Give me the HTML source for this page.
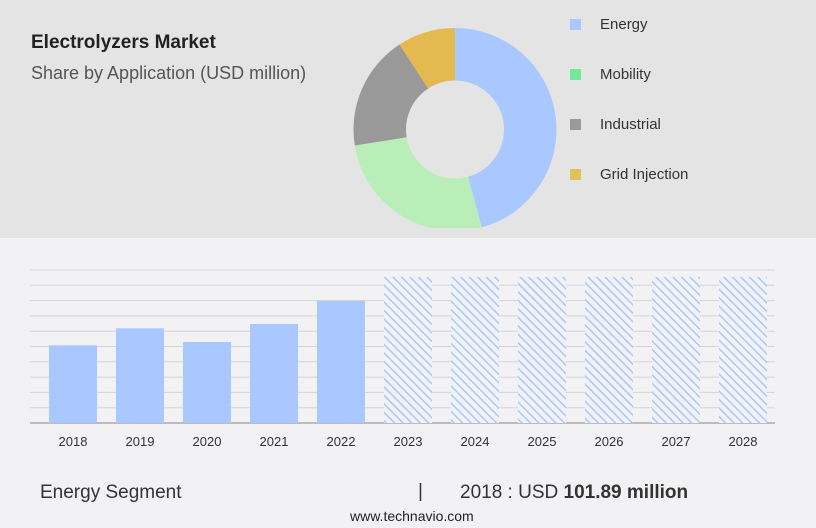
<!DOCTYPE html>
<html><head><meta charset="utf-8"><style>
body{margin:0;width:816px;height:528px;overflow:hidden;background:#f2f2f4;font-family:"Liberation Sans",sans-serif;position:relative}
.top{position:absolute;left:0;top:0;width:816px;height:238px;background:#e4e4e4}
.t1{position:absolute;left:31px;top:32px;font-size:19px;font-weight:bold;color:#222}
.t2{position:absolute;left:31px;top:63px;font-size:18px;color:#555}
.lg{position:absolute;left:570px;font-size:15px;color:#333}
.lg span{display:inline-block;width:11px;height:11px;margin-right:19px;vertical-align:-1px}
.ft{position:absolute;font-size:19px;color:#333}
</style></head><body>
<div class="top"></div>
<div class="t1">Electrolyzers Market</div>
<div class="t2">Share by Application (USD million)</div>
<svg id="donut" width="816" height="238" style="position:absolute;left:0;top:0"></svg>
<div class="lg" style="top:16px"><span style="background:#a8c8ff"></span>Energy</div>
<div class="lg" style="top:66px"><span style="background:#77e69a"></span>Mobility</div>
<div class="lg" style="top:116px"><span style="background:#999"></span>Industrial</div>
<div class="lg" style="top:166px"><span style="background:#dfc356"></span>Grid Injection</div>
<svg id="bars" width="816" height="220" style="position:absolute;left:0;top:250px">
<defs><pattern id="hatch" width="6" height="6" patternUnits="userSpaceOnUse" patternTransform="rotate(-45)"><rect width="6" height="6" fill="#f2f2f4"/><rect width="1.5" height="6" fill="#a8c8ff"/></pattern></defs>
</svg>
<div class="ft" style="left:40px;top:482px">Energy Segment</div>
<div class="ft" style="left:418px;top:481px">|</div>
<div class="ft" style="left:460px;top:482px">2018 : USD <b>101.89 million</b></div>
<div style="position:absolute;left:350px;top:508px;font-size:14px;color:#222">www.technavio.com</div>
<script>
const sliceLabels=["Energy","Mobility","Industrial","Grid Injection"];
const sliceValues=[45.7,26.7,18.3,9.2];
const sliceColors=["#a8c8ff","#b9eeb9","#999999","#e4b94f"];
const years=["2018","2019","2020","2021","2022","2023","2024","2025","2026","2027","2028"];
const values=[101.89,124.2,106.2,129.8,160.0,191.5,191.5,191.5,191.5,191.5,191.5];
const forecast=[false,false,false,false,false,true,true,true,true,true,true];
const NS="http://www.w3.org/2000/svg";
(function(){
const svg=document.getElementById('donut');const cx=455,cy=129.5,R=101.5,r=49;
const tot=sliceValues.reduce((a,b)=>a+b,0);let a0=0;
sliceValues.forEach((v,i)=>{const a1=a0+v/tot*2*Math.PI;
const p=(a,rad)=>[cx+rad*Math.sin(a),cy-rad*Math.cos(a)];
const [x1,y1]=p(a0,R),[x2,y2]=p(a1,R),[x3,y3]=p(a1,r),[x4,y4]=p(a0,r);const lg=a1-a0>Math.PI?1:0;
const el=document.createElementNS(NS,'path');
el.setAttribute('d',`M${x1},${y1}A${R},${R} 0 ${lg} 1 ${x2},${y2}L${x3},${y3}A${r},${r} 0 ${lg} 0 ${x4},${y4}Z`);
el.setAttribute('fill',sliceColors[i]);


svg.appendChild(el);a0=a1;});
const cl=document.createElementNS(NS,'rect');cl.setAttribute('x',0);cl.setAttribute('y',228);cl.setAttribute('width',816);cl.setAttribute('height',10);cl.setAttribute('fill','#e4e4e4');svg.appendChild(cl);
})();
(function(){
const svg=document.getElementById('bars');const base=173,pxPer=77.7/101.89;
const y=v=>base-v*pxPer;const x=i=>49+i*67;
for(let g=0;g<=10;g++){const l=document.createElementNS(NS,'line');const gy=20+g*15.3;
l.setAttribute('x1',30);l.setAttribute('x2',775);l.setAttribute('y1',gy);l.setAttribute('y2',gy);
l.setAttribute('stroke',g==10?'#aaa':'#d4d4d6');l.setAttribute('stroke-width',g==10?1.5:1);


svg.appendChild(l);}
values.forEach((v,i)=>{const b=document.createElementNS(NS,'rect');
b.setAttribute('x',x(i));b.setAttribute('width',48);b.setAttribute('y',y(v));b.setAttribute('height',base-y(v));
b.setAttribute('fill',forecast[i]?'url(#hatch)':'#a8c8ff');


svg.appendChild(b);
const t=document.createElementNS(NS,'text');t.setAttribute('x',x(i)+24);t.setAttribute('y',196);
t.setAttribute('text-anchor','middle');t.setAttribute('font-size','13');t.setAttribute('fill','#333');t.setAttribute('font-family','Liberation Sans, sans-serif');
t.textContent=years[i];


svg.appendChild(t);});
})();
</script>
</body></html>
